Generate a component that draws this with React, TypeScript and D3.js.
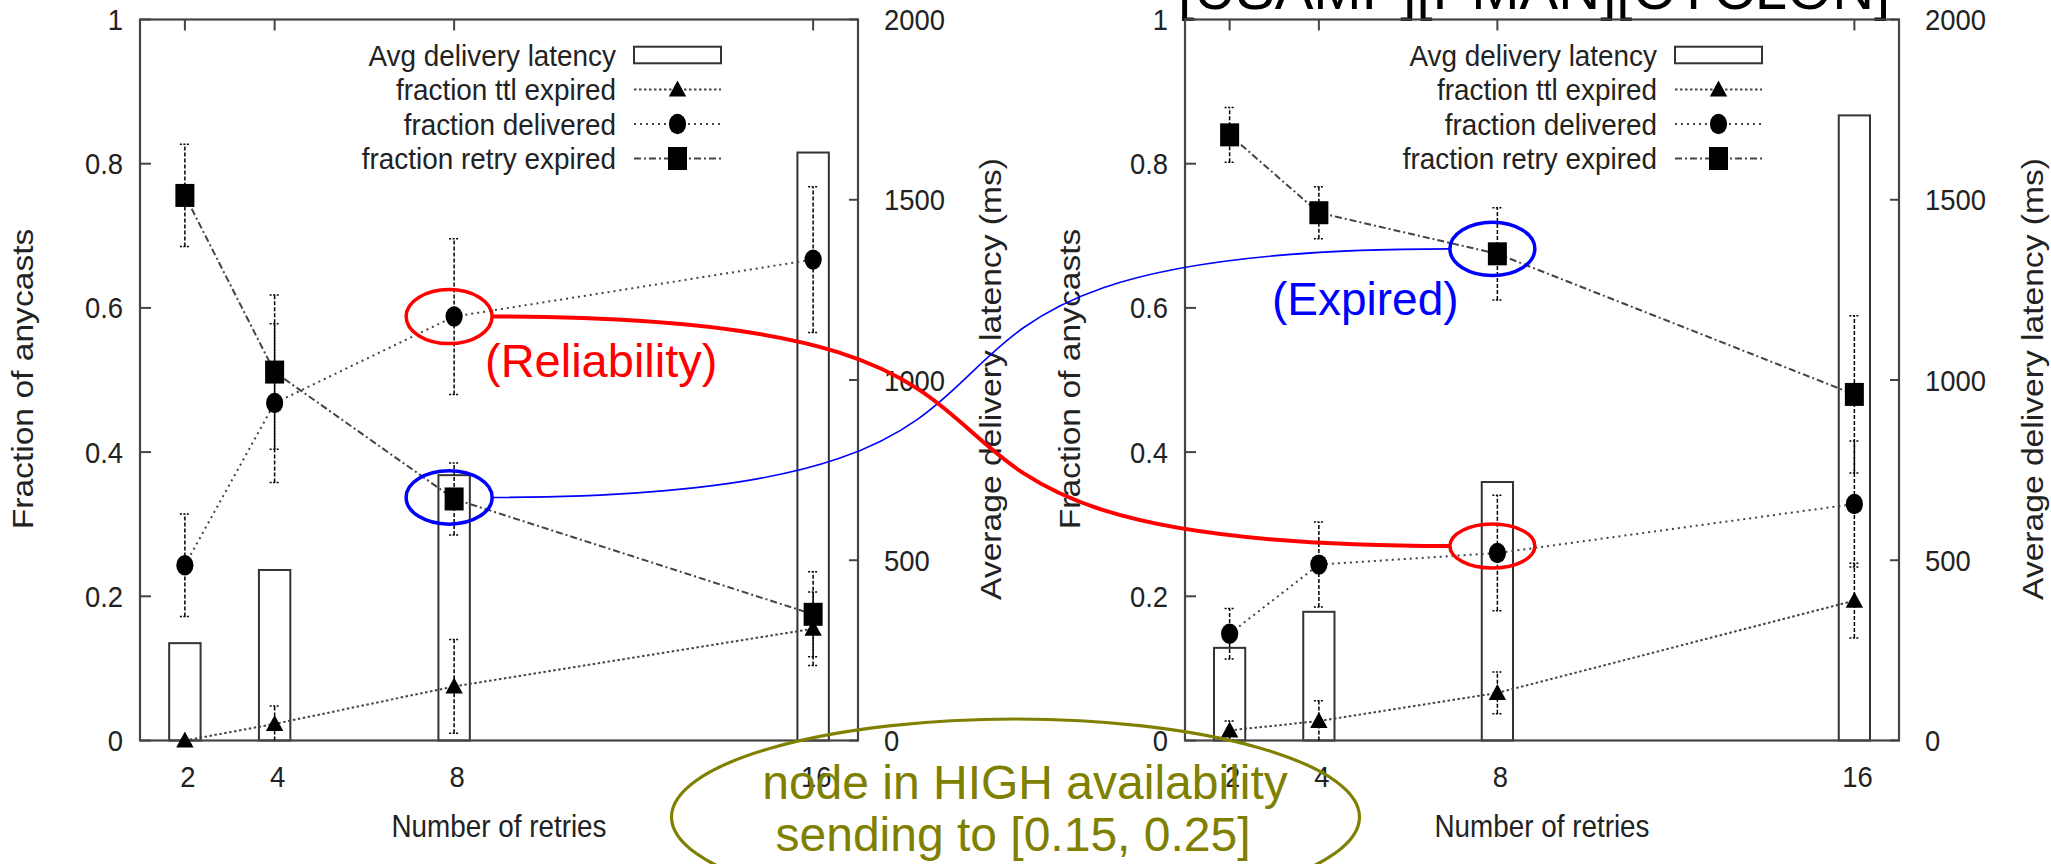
import React from 'react';
import * as d3 from 'd3';

const FONT = '"Liberation Sans", Arial, Helvetica, sans-serif';

// shared axes
const retries = [2, 4, 8, 16];
const yTicks = [0, 0.2, 0.4, 0.6, 0.8, 1];
const y2Ticks = [0, 500, 1000, 1500, 2000];
const legendLabels = [
  'Avg delivery latency',
  'fraction ttl expired',
  'fraction delivered',
  'fraction retry expired',
];

// left panel
const latencyA = [270, 473, 736, 1631];
const ttlA = [0, 0.023, 0.075, 0.155];
const ttlErrA = [0, 0.025, 0.065, 0.051];
const deliveredA = [0.243, 0.468, 0.588, 0.667];
const deliveredErrA = [0.071, 0.11, 0.108, 0.101];
const retryA = [0.756, 0.511, 0.335, 0.175];
const retryErrA = [0.071, 0.107, 0.05, 0.059];

// right panel
const latencyB = [257, 357, 717, 1734];
const ttlB = [0.014, 0.027, 0.066, 0.194];
const ttlErrB = [0.013, 0.028, 0.029, 0.052];
const deliveredB = [0.148, 0.244, 0.26, 0.328];
const deliveredErrB = [0.035, 0.059, 0.08, 0.0875];
const retryB = [0.84, 0.732, 0.675, 0.48];
const retryErrB = [0.038, 0.036, 0.064, 0.109];

const TOP = 19.5;
const BOTTOM = 740.5;

const yScale = d3.scaleLinear().domain([0, 1]).range([BOTTOM, TOP]);
const y2Scale = d3.scaleLinear().domain([0, 2000]).range([BOTTOM, TOP]);
const xA = d3.scaleLinear().domain([1, 17]).range([140, 858]);
const xB = d3.scaleLinear().domain([1, 17]).range([1185, 1899]);

type Series = { values: number[]; err: number[]; dash: string; marker: string };

function Marker({ kind, cx, cy }: { kind: string; cx: number; cy: number }) {
  if (kind === 'tri')
    return <path d="M0,-9L8.7,7L-8.7,7Z" transform={`translate(${cx},${cy})`} fill="#000" />;
  if (kind === 'circle') return <ellipse cx={cx} cy={cy} rx={8.6} ry={10.2} fill="#000" />;
  return <rect x={cx - 9.5} y={cy - 11.5} width={19} height={23} fill="#000" />;
}

// narrow gnuplot-like text
function NText({ x, y, anchor, size, sx, children }: any) {
  return (
    <text
      transform={`translate(${x},${y}) scale(${sx},1)`}
      textAnchor={anchor}
      fontFamily={FONT}
      fontSize={size}
      fill="#222"
    >
      {children}
    </text>
  );
}

function Panel({
  x,
  latency,
  series,
  yLabelX,
  y2LabelX,
}: {
  x: d3.ScaleLinear<number, number>;
  latency: number[];
  series: Series[];
  yLabelX: number;
  y2LabelX: number;
}) {
  const [x0, x1] = x.range();
  const barW = x(1.7) - x(1);
  const cx = (x0 + x1) / 2;
  const sampleEnd = x1 - 137;
  const sampleStart = sampleEnd - 87;
  const textEnd = sampleStart - 18;
  const rowY = (i: number) => 55 + i * 34.5;
  const line = d3
    .line<number>()
    .x((_, i) => x(retries[i]))
    .y((d) => yScale(d));

  return (
    <g>
      {/* latency bars */}
      {latency.map((v, i) => (
        <rect
          key={'b' + i}
          x={x(retries[i]) - barW / 2}
          y={y2Scale(v)}
          width={barW}
          height={BOTTOM - y2Scale(v)}
          fill="#fff"
          stroke="#333"
          strokeWidth={2}
        />
      ))}
      {/* frame */}
      <rect x={x0} y={TOP} width={x1 - x0} height={BOTTOM - TOP} fill="none" stroke="#444" strokeWidth={2.2} />
      {retries.map((v) => (
        <line key={'xt' + v} x1={x(v)} x2={x(v)} y1={TOP} y2={TOP + 11} stroke="#444" strokeWidth={2} />
      ))}
      {yTicks.map((v) => (
        <line key={'yt' + v} x1={x0} x2={x0 + 11} y1={yScale(v)} y2={yScale(v)} stroke="#444" strokeWidth={2} />
      ))}
      {y2Ticks.map((v) => (
        <line key={'y2t' + v} x1={x1 - 9} x2={x1} y1={y2Scale(v)} y2={y2Scale(v)} stroke="#444" strokeWidth={2} />
      ))}
      {/* tick labels */}
      {yTicks.map((v) => (
        <NText key={'yl' + v} x={x0 - 17} y={yScale(v) + 10.5} anchor="end" size={29.5} sx={0.93}>
          {String(v)}
        </NText>
      ))}
      {y2Ticks.map((v) => (
        <NText key={'y2l' + v} x={x1 + 26} y={y2Scale(v) + 10.5} anchor="start" size={29.5} sx={0.93}>
          {String(v)}
        </NText>
      ))}
      {retries.map((v) => (
        <NText key={'xl' + v} x={x(v) + 3} y={787} anchor="middle" size={29.5} sx={0.93}>
          {String(v)}
        </NText>
      ))}
      <NText x={cx} y={837} anchor="middle" size={32} sx={0.87}>
        Number of retries
      </NText>
      <text
        transform={`translate(${yLabelX},379) rotate(-90) scale(1.12,1)`}
        textAnchor="middle"
        fontFamily={FONT}
        fontSize={30}
        fill="#222"
      >
        Fraction of anycasts
      </text>
      <text
        transform={`translate(${y2LabelX},379) rotate(-90) scale(1.12,1)`}
        textAnchor="middle"
        fontFamily={FONT}
        fontSize={30}
        fill="#222"
      >
        Average delivery latency (ms)
      </text>
      {/* series lines */}
      {series.map((s, k) => (
        <path key={'l' + k} d={line(s.values) || ''} fill="none" stroke="#444" strokeWidth={2} strokeDasharray={s.dash} />
      ))}
      {/* error bars */}
      {series.map((s, k) =>
        s.values.map((v, i) => {
          const e = s.err[i];
          if (!e) return null;
          const px = x(retries[i]);
          const lo = yScale(Math.max(0, v - e));
          const hi = yScale(v + e);
          return (
            <g key={`e${k}-${i}`} stroke="#000" strokeWidth={1.5}>
              <line x1={px} x2={px} y1={lo} y2={hi} strokeDasharray="4,2" />
              <line x1={px - 5} x2={px + 5} y1={hi} y2={hi} strokeDasharray="2,1.5" />
              {v - e > 0 && <line x1={px - 5} x2={px + 5} y1={lo} y2={lo} strokeDasharray="2,1.5" />}
            </g>
          );
        })
      )}
      {/* markers */}
      {series.map((s, k) =>
        s.values.map((v, i) => <Marker key={`m${k}-${i}`} kind={s.marker} cx={x(retries[i])} cy={yScale(v)} />)
      )}
      {/* legend */}
      {legendLabels.map((t, i) => (
        <NText key={'lg' + i} x={textEnd} y={rowY(i) + 10.5} anchor="end" size={30} sx={0.93}>
          {t}
        </NText>
      ))}
      <rect x={sampleStart} y={rowY(0) - 8.3} width={sampleEnd - sampleStart} height={16.6} fill="#fff" stroke="#333" strokeWidth={2} />
      {series.map((s, k) => (
        <g key={'ls' + k}>
          <line
            x1={sampleStart}
            x2={sampleEnd}
            y1={rowY(k + 1)}
            y2={rowY(k + 1)}
            stroke="#444"
            strokeWidth={2}
            strokeDasharray={s.dash}
          />
          <Marker kind={s.marker} cx={(sampleStart + sampleEnd) / 2} cy={rowY(k + 1)} />
        </g>
      ))}
    </g>
  );
}

type Ell = { cx: number; cy: number; rx: number; ry: number };

function connector(a: Ell, b: Ell) {
  const sx = a.cx + a.rx;
  const ex = b.cx - b.rx;
  const p = d3.path();
  p.moveTo(sx, a.cy);
  p.bezierCurveTo(sx + 700, a.cy, ex - 700, b.cy, ex, b.cy);
  return p.toString();
}

export default function App() {
  const seriesA: Series[] = [
    { values: ttlA, err: ttlErrA, dash: '2.5,2.5', marker: 'tri' },
    { values: deliveredA, err: deliveredErrA, dash: '2,4', marker: 'circle' },
    { values: retryA, err: retryErrA, dash: '7,3,2,3', marker: 'square' },
  ];
  const seriesB: Series[] = [
    { values: ttlB, err: ttlErrB, dash: '2.5,2.5', marker: 'tri' },
    { values: deliveredB, err: deliveredErrB, dash: '2,4', marker: 'circle' },
    { values: retryB, err: retryErrB, dash: '7,3,2,3', marker: 'square' },
  ];

  const k = retries.indexOf(8);
  const redL: Ell = { cx: xA(8) - 5, cy: yScale(deliveredA[k]), rx: 43, ry: 27 };
  const redR: Ell = { cx: xB(8) - 5, cy: yScale(deliveredB[k]) - 7, rx: 42.5, ry: 22 };
  const blueL: Ell = { cx: xA(8) - 5, cy: yScale(retryA[k]) - 1.5, rx: 43, ry: 26.7 };
  const blueR: Ell = { cx: xB(8) - 5, cy: yScale(retryB[k]) - 5, rx: 42.5, ry: 26.7 };

  return (
    <svg
      width={2051}
      height={864}
      style={{ position: 'absolute', left: 0, top: 0, background: '#fff' }}
    >
      <rect width={2051} height={864} fill="#fff" />
      <text x={1178} y={9} fontFamily={FONT} fontSize={58} fill="#000">
        [USAMP][PMAN][CYCLON]
      </text>
      <Panel x={xA} latency={latencyA} series={seriesA} yLabelX={33} y2LabelX={1001} />
      <Panel x={xB} latency={latencyB} series={seriesB} yLabelX={1080} y2LabelX={2043} />

      {/* annotations */}
      <g fill="none">
        <path d={connector(blueL, blueR)} stroke="#0000ff" strokeWidth={1.6} />
        <path d={connector(redL, redR)} stroke="#ff0000" strokeWidth={4} />
        {[blueL, blueR].map((e, i) => (
          <ellipse key={'be' + i} cx={e.cx} cy={e.cy} rx={e.rx} ry={e.ry} stroke="#0000ff" strokeWidth={3.5} />
        ))}
        {[redL, redR].map((e, i) => (
          <ellipse key={'re' + i} cx={e.cx} cy={e.cy} rx={e.rx} ry={e.ry} stroke="#ff0000" strokeWidth={3.5} />
        ))}
        <ellipse cx={1015.5} cy={817} rx={344} ry={98} stroke="#808000" strokeWidth={3.2} />
      </g>
      <text x={485} y={377} fontFamily={FONT} fontSize={47} fill="#ff0000">
        (Reliability)
      </text>
      <text x={1272} y={315} fontFamily={FONT} fontSize={46} fill="#0000ff">
        (Expired)
      </text>
      <g fontFamily={FONT} fontSize={48} fill="#808000" textAnchor="middle">
        <text x={1025} y={799}>node in HIGH availability</text>
        <text x={1013} y={851}>sending to [0.15, 0.25]</text>
      </g>
    </svg>
  );
}
